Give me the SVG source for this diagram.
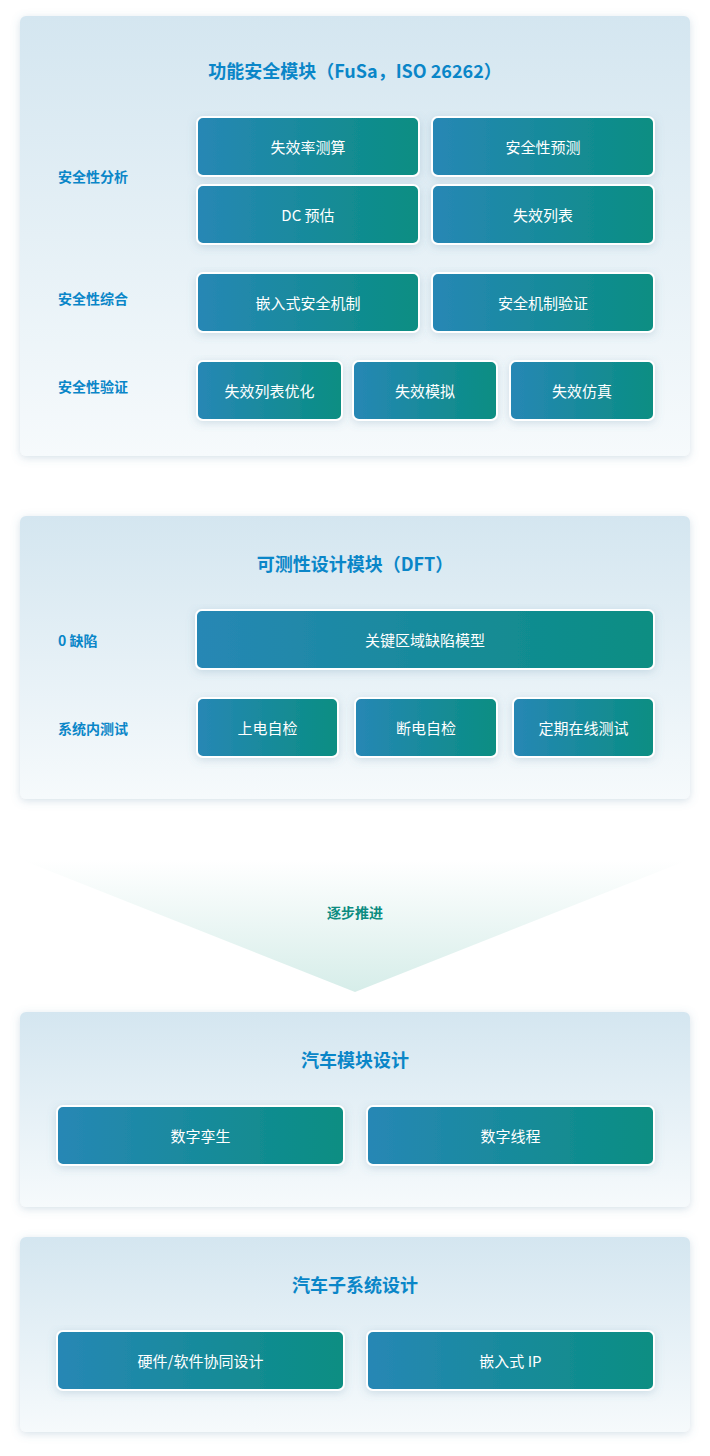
<svg xmlns="http://www.w3.org/2000/svg" width="710" height="1456" viewBox="0 0 710 1456">
<defs>
<linearGradient id="pg" x1="0" y1="0" x2="0" y2="1"><stop offset="0" stop-color="#d4e6f0"/><stop offset="1" stop-color="#f6fafc"/></linearGradient>
<linearGradient id="bg" x1="0" y1="0" x2="1" y2="0"><stop offset="0" stop-color="#2787b5"/><stop offset="1" stop-color="#098e82"/></linearGradient>
<linearGradient id="tg" x1="0" y1="0" x2="0" y2="1"><stop offset="0" stop-color="#ffffff"/><stop offset="1" stop-color="#d6ede9"/></linearGradient>
<filter id="sh" x="-10%" y="-10%" width="120%" height="130%"><feDropShadow dx="0" dy="2" stdDeviation="4" flood-color="#5a8aa6" flood-opacity="0.25"/></filter>
</defs>
<style>
.p{fill:url(#pg);filter:url(#sh)}
.b{fill:url(#bg);stroke:#fff;stroke-width:2;filter:url(#sh)}
.bt{fill:#fff;font-family:"Noto Sans CJK SC","Noto Sans",sans-serif;font-size:15px;text-anchor:middle;dominant-baseline:central}
.t{fill:#0a86c8;font-family:"Noto Sans CJK SC","Noto Sans",sans-serif;font-size:18px;font-weight:bold;text-anchor:middle;dominant-baseline:central}
.l{fill:#0a86c8;font-family:"Noto Sans CJK SC","Noto Sans",sans-serif;font-size:14px;font-weight:bold;dominant-baseline:central}
</style>
<rect width="710" height="1456" fill="#fff"/>
<g id="panel1">
<rect class="p" x="20" y="16" width="670" height="440" rx="6"/>
<text class="t" x="355" y="70">功能安全模块（FuSa，ISO 26262）</text>
<text class="l" x="58" y="176">安全性分析</text>
<text class="l" x="58" y="298">安全性综合</text>
<text class="l" x="58" y="386">安全性验证</text>
</g>
<g id="n1"><rect class="b" x="197" y="117" width="222" height="59" rx="6"/><text class="bt" x="308" y="146">失效率测算</text></g>
<g id="n2"><rect class="b" x="432" y="117" width="222" height="59" rx="6"/><text class="bt" x="543" y="146">安全性预测</text></g>
<g id="n3"><rect class="b" x="197" y="185" width="222" height="59" rx="6"/><text class="bt" x="308" y="214">DC 预估</text></g>
<g id="n4"><rect class="b" x="432" y="185" width="222" height="59" rx="6"/><text class="bt" x="543" y="214">失效列表</text></g>
<g id="n5"><rect class="b" x="197" y="273" width="222" height="59" rx="6"/><text class="bt" x="308" y="302">嵌入式安全机制</text></g>
<g id="n6"><rect class="b" x="432" y="273" width="222" height="59" rx="6"/><text class="bt" x="543" y="302">安全机制验证</text></g>
<g id="n7"><rect class="b" x="197" y="361" width="145" height="59" rx="6"/><text class="bt" x="269.5" y="390">失效列表优化</text></g>
<g id="n8"><rect class="b" x="353" y="361" width="144" height="59" rx="6"/><text class="bt" x="425" y="390">失效模拟</text></g>
<g id="n9"><rect class="b" x="510" y="361" width="144" height="59" rx="6"/><text class="bt" x="582" y="390">失效仿真</text></g>
<g id="panel2">
<rect class="p" x="20" y="516" width="670" height="283" rx="6"/>
<text class="t" x="355" y="563">可测性设计模块（DFT）</text>
<text class="l" x="58" y="640">0 缺陷</text>
<text class="l" x="58" y="728">系统内测试</text>
</g>
<g id="n10"><rect class="b" x="196" y="610" width="458" height="59" rx="6"/><text class="bt" x="425" y="639">关键区域缺陷模型</text></g>
<g id="n11"><rect class="b" x="197" y="698" width="141" height="59" rx="6"/><text class="bt" x="267.5" y="727">上电自检</text></g>
<g id="n12"><rect class="b" x="355" y="698" width="142" height="59" rx="6"/><text class="bt" x="426" y="727">断电自检</text></g>
<g id="n13"><rect class="b" x="513" y="698" width="141" height="59" rx="6"/><text class="bt" x="583.5" y="727">定期在线测试</text></g>
<g id="step">
<polygon points="22,860 688,860 355,992" fill="url(#tg)"/>
<text x="355" y="912" fill="#0c8c80" font-family="'Noto Sans CJK SC','Noto Sans',sans-serif" font-size="14" font-weight="bold" text-anchor="middle" dominant-baseline="central">逐步推进</text>
</g>
<g id="panel3">
<rect class="p" x="20" y="1012" width="670" height="195" rx="6"/>
<text class="t" x="355" y="1059">汽车模块设计</text>
</g>
<g id="n14"><rect class="b" x="57" y="1106" width="287" height="59" rx="6"/><text class="bt" x="200.5" y="1135">数字孪生</text></g>
<g id="n15"><rect class="b" x="367" y="1106" width="287" height="59" rx="6"/><text class="bt" x="510.5" y="1135">数字线程</text></g>
<g id="panel4">
<rect class="p" x="20" y="1237" width="670" height="195" rx="6"/>
<text class="t" x="355" y="1284">汽车子系统设计</text>
</g>
<g id="n16"><rect class="b" x="57" y="1331" width="287" height="59" rx="6"/><text class="bt" x="200.5" y="1360">硬件/软件协同设计</text></g>
<g id="n17"><rect class="b" x="367" y="1331" width="287" height="59" rx="6"/><text class="bt" x="510.5" y="1360">嵌入式 IP</text></g>
<g id="connectors"/>
</svg>
